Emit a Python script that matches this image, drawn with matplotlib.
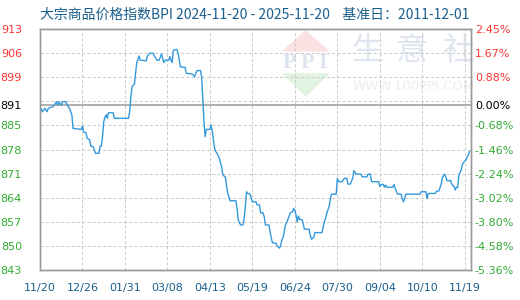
import matplotlib
matplotlib.use("Agg")
import matplotlib.pyplot as plt
from matplotlib.patches import Polygon

plt.rcParams["font.family"] = ["Noto Sans CJK SC", "DejaVu Sans"]

TITLE = "大宗商品价格指数BPI 2024-11-20 - 2025-11-20    基准日：2011-12-01"

# days since 2024-11-20 and index value
days = [0, 2, 4, 6, 7, 11, 14, 15, 16, 18, 19, 22, 23, 25, 27, 28, 35, 36, 37, 39,
        40, 42, 43, 45, 47, 50, 51, 52, 53, 54, 55, 56, 57, 58, 62, 63, 75, 76, 77, 78,
        80, 81, 82, 83, 84, 85, 90, 91, 93, 96, 97, 99, 101, 103, 105, 106, 109, 110, 111, 112,
        113, 116, 117, 118, 119, 123, 124, 129, 131, 132, 133, 136, 137, 138, 139, 140, 141, 144, 145, 146,
        147, 148, 149, 150, 152, 153, 154, 155, 157, 158, 159, 161, 166, 167, 168, 170, 172, 173, 174, 175,
        176, 178, 180, 183, 184, 186, 187, 189, 190, 191, 194, 195, 196, 197, 200, 201, 203, 204, 205, 206,
        207, 208, 209, 211, 212, 214, 215, 216, 217, 218, 219, 220, 222, 223, 224, 228, 229, 230, 232, 233,
        239, 240, 241, 242, 243, 245, 246, 247, 251, 252, 253, 256, 258, 260, 261, 263, 265, 266, 268, 272,
        273, 277, 278, 280, 281, 287, 288, 289, 291, 292, 293, 294, 299, 300, 301, 303, 306, 307, 308, 309,
        310, 322, 323, 327, 328, 329, 335, 336, 338, 340, 341, 343, 344, 345, 348, 349, 351, 352, 353, 354,
        355, 357, 358, 360, 361, 362, 363, 364]
values = [890.6, 889.1, 890.1, 889.1, 890.1, 890.6, 892.0, 891.0, 892.0, 891.0, 892.0, 892.0, 891.0, 890.1, 888.2, 884.3, 884.0, 885.0, 883.3, 883.0,
          881.4, 881.1, 879.2, 879.0, 877.1, 877.1, 879.2, 879.2, 881.9, 886.2, 887.5, 888.2, 887.2, 888.8, 888.8, 887.2, 887.2, 889.1, 893.4, 896.3,
          897.1, 900.2, 903.3, 904.2, 905.2, 904.0, 903.8, 905.2, 906.0, 906.0, 905.2, 904.0, 904.0, 905.8, 903.3, 904.0, 904.0, 905.0, 904.0, 903.3,
          906.9, 907.1, 906.0, 904.0, 902.1, 901.9, 900.2, 900.0, 899.2, 900.2, 901.0, 901.0, 899.2, 892.5, 886.2, 881.9, 884.0, 884.0, 885.3, 883.6,
          880.9, 878.5, 877.6, 877.1, 875.7, 874.2, 873.2, 870.8, 870.3, 868.0, 865.7, 863.4, 863.4, 861.2, 857.8, 856.4, 856.4, 858.3, 861.7, 866.0,
          865.5, 865.3, 863.1, 863.1, 862.2, 862.2, 859.9, 859.9, 858.8, 856.4, 856.4, 854.5, 852.6, 851.3, 851.1, 850.3, 849.7, 850.6, 852.1, 852.8,
          854.5, 856.4, 857.1, 858.8, 859.9, 860.2, 861.2, 860.5, 859.3, 857.3, 859.0, 858.0, 858.0, 856.9, 855.2, 855.2, 853.5, 852.3, 852.8, 854.2,
          854.2, 855.9, 857.3, 858.3, 859.8, 861.7, 863.8, 865.3, 865.3, 869.9, 868.9, 868.9, 869.9, 869.9, 868.2, 868.2, 869.9, 872.1, 871.1, 871.1,
          870.3, 870.3, 871.1, 871.1, 868.9, 868.9, 867.5, 868.1, 868.1, 867.3, 867.9, 867.3, 867.3, 868.1, 867.0, 865.3, 865.3, 864.0, 863.1, 864.0,
          865.3, 865.3, 866.0, 866.0, 864.0, 865.5, 865.5, 866.2, 866.2, 868.2, 870.1, 871.1, 870.1, 869.2, 869.2, 868.1, 867.5, 866.5, 867.3, 867.3,
          870.8, 872.3, 874.0, 874.9, 875.2, 876.1, 876.6, 877.6]

base_value = 891.16
x_ticks = [0, 36, 72, 108, 144, 180, 216, 252, 288, 324, 360]
x_labels = ["11/20", "12/26", "01/31", "03/08", "04/13", "05/19",
            "06/24", "07/30", "09/04", "10/10", "11/19"]
grid_levels = [843.4, 850.36, 857.32, 864.28, 871.24, 878.2, 885.16, 892.12, 899.08, 906.04, 913.0]
y_ticks = [843.4, 850.36, 857.32, 864.28, 871.24, 878.2, 885.16, 891.16, 899.08, 906.04, 913.0]
y_labels = ["843", "850", "857", "864", "871", "878", "885", "891", "899", "906", "913"]
pct_labels = ["-5.36%", "-4.58%", "-3.80%", "-3.02%", "-2.24%", "-1.46%", "-0.68%",
              "0.00%", "0.88%", "1.67%", "2.45%"]

RED = "#ff3333"
GREEN = "#33aa33"
BLUE_TXT = "#1a5f8c"
LINE_BLUE = "#3399dd"
AXIS_GREY = "#999999"

fig = plt.figure(figsize=(5.2, 3.0), dpi=100)
ax = fig.add_axes([40 / 520, 30 / 300, 430.7 / 520, 241 / 300])
ax.set_axisbelow(True)

# watermark (logo + site name), drawn inside the axes so it stays behind grid and line
W, H = 520.0, 300.0
def fp(x, y):
    return (x / W, 1 - y / H)

ax.add_patch(Polygon([fp(305.7, 30), fp(281.7, 51.7), fp(330, 51.7)], closed=True,
                     facecolor="#fbe1e1", edgecolor="none", transform=fig.transFigure, zorder=0.1))
ax.add_patch(Polygon([fp(281.7, 73.3), fp(330, 73.3), fp(305.7, 96.7)], closed=True,
                     facecolor="#e1f3e1", edgecolor="none", transform=fig.transFigure, zorder=0.1))
ax.text(305.7 / W, 1 - 63.5 / H, "P P I", family="Liberation Serif", weight="bold", fontsize=16,
        color="#dde3ef", ha="center", va="center", transform=fig.transFigure, zorder=0.1)
for cx, ch in zip([367, 412, 458], "生意社"):
    ax.text(cx / W, 1 - 51 / H, ch, fontsize=23, color="#dfe5ef", ha="center", va="center",
            transform=fig.transFigure, zorder=0.1, clip_on=False)
ax.text(414 / W, 1 - 87 / H, "WWW.100PPI.COM", family="DejaVu Sans", fontsize=9.5,
        color="#ececec", ha="center", va="center", transform=fig.transFigure, zorder=0.1)

# dashed grid
for lv in grid_levels[1:-1]:
    ax.axhline(lv, color="#cccccc", linewidth=0.75, linestyle=(0, (3, 2)), zorder=0.5)
for xv in x_ticks[1:]:
    ax.axvline(xv, color="#cccccc", linewidth=0.75, linestyle=(0, (3, 2)), zorder=0.5)
ax.axhline(base_value, color=AXIS_GREY, linewidth=1.1, zorder=1)

ax.plot(days, values, color=LINE_BLUE, linewidth=1.0, zorder=3)

ax.set_xlim(0, 365)
ax.set_ylim(grid_levels[0], grid_levels[-1])
for sp in ax.spines.values():
    sp.set_color(AXIS_GREY)
    sp.set_linewidth(1.0)

ax.set_xticks(x_ticks)
ax.set_xticklabels(x_labels, fontsize=8, color=BLUE_TXT, family="DejaVu Sans")
ax.tick_params(axis="x", length=0, pad=9)

ax.set_yticks(y_ticks)
ax.set_yticklabels(y_labels, fontsize=8, family="DejaVu Sans")
ax.tick_params(axis="y", length=0, pad=13)

ax2 = ax.twinx()
ax2.set_ylim(ax.get_ylim())
ax2.set_yticks(y_ticks)
ax2.set_yticklabels(pct_labels, fontsize=8, family="DejaVu Sans")
ax2.tick_params(axis="y", length=0, pad=3)
for sp in ax2.spines.values():
    sp.set_color(AXIS_GREY)
    sp.set_linewidth(1.0)

# colour the labels: above base red, base black, below green
for lbls in (ax.get_yticklabels(), ax2.get_yticklabels()):
    for t, v in zip(lbls, y_ticks):
        if v > base_value + 0.5:
            t.set_color(RED)
        elif v < base_value - 0.5:
            t.set_color(GREEN)
        else:
            t.set_color("black")

fig.text(40 / W, 1 - 15 / H, TITLE, fontsize=10, color=BLUE_TXT, ha="left", va="center")

fig.savefig("out.png", dpi=100, facecolor="white")
